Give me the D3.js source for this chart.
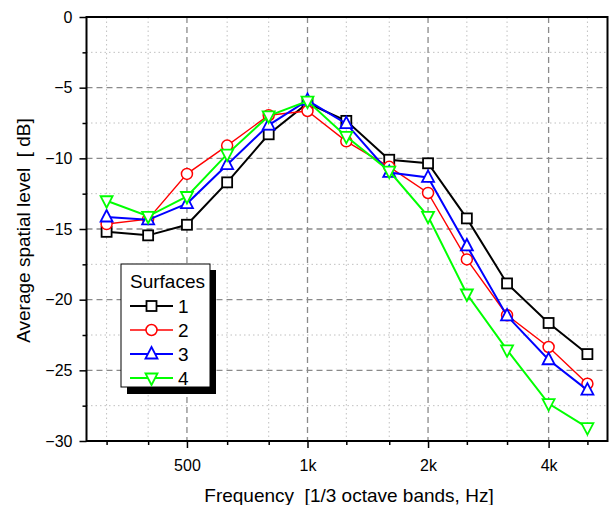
<!DOCTYPE html>
<html>
<head>
<meta charset="utf-8">
<script src="https://cdn.jsdelivr.net/npm/d3@7"></script>
<style>
  body { margin: 0; background: #fff; }
  text { font-family: "Liberation Sans", Arial, sans-serif; fill: #000; white-space: pre; }
</style>
</head>
<body>
<svg id="chart"></svg>
<script>
// 1/3 octave band centres
let freqs = [315, 400, 500, 630, 800, 1000, 1250, 1600, 2000, 2500, 3150, 4000, 5000];
let surface1 = [-15.2, -15.45, -14.7, -11.7, -8.3, -6.1, -7.35, -10.1, -10.35, -14.25, -18.85, -21.65, -23.85];
let surface2 = [-14.65, -14.3, -11.1, -9.1, -6.95, -6.65, -8.8, -10.6, -12.45, -17.15, -21.1, -23.35, -25.95];
let surface3 = [-14.15, -14.35, -13.2, -10.45, -7.65, -5.9, -7.55, -11.0, -11.35, -16.2, -21.15, -24.25, -26.4];
let surface4 = [-13.0, -14.1, -12.7, -9.7, -7.0, -5.95, -8.45, -10.9, -14.1, -19.6, -23.55, -27.35, -29.05];
let seriesNames = ["1", "2", "3", "4"];
let seriesColors = ["#000000", "#ff0000", "#0000ff", "#00ff00"];
let seriesMarkers = ["square", "circle", "up", "down"];
let majorX = [500, 1000, 2000, 4000];
let majorXLabels = ["500", "1k", "2k", "4k"];
let yTicks = [0, -5, -10, -15, -20, -25, -30];

let w = 609, h = 505;
let margin = { top: 17, right: 1.5, bottom: 64, left: 86.5 };

let svg = d3.select("#chart").attr("width", w).attr("height", h);

//half a third-octave each side
let xScale = d3.scaleLog()
    .domain([315 / Math.pow(2, 1 / 6), 5000 * Math.pow(2, 1 / 6)])
    .range([margin.left, w - margin.right]);

let yScale = d3.scaleLinear()
    .domain([-30, 0])
    .range([h - margin.bottom, margin.top]);

let x0 = margin.left, x1 = w - margin.right, y0 = margin.top, y1 = h - margin.bottom;

let minorX = freqs.filter(f => majorX.indexOf(f) < 0);
let minorY = d3.range(-27.5, 0, 5);
let majorY = yTicks.filter(v => v > -30 && v < 0);

// grid
let grid = svg.append("g");
grid.selectAll("line.mx").data(minorX).enter().append("line")
    .attr("x1", d => xScale(d)).attr("x2", d => xScale(d))
    .attr("y1", y0).attr("y2", y1)
    .attr("stroke", "#c0c0c0").attr("stroke-width", 1).attr("stroke-dasharray", "1.5,3");
grid.selectAll("line.my").data(minorY).enter().append("line")
    .attr("x1", x0).attr("x2", x1)
    .attr("y1", d => yScale(d)).attr("y2", d => yScale(d))
    .attr("stroke", "#c0c0c0").attr("stroke-width", 1).attr("stroke-dasharray", "1.5,3");
grid.selectAll("line.Mx").data(majorX).enter().append("line")
    .attr("x1", d => xScale(d)).attr("x2", d => xScale(d))
    .attr("y1", y0).attr("y2", y1)
    .attr("stroke", "#8a8a8a").attr("stroke-width", 1.3).attr("stroke-dasharray", "6,4");
grid.selectAll("line.My").data(majorY).enter().append("line")
    .attr("x1", x0).attr("x2", x1)
    .attr("y1", d => yScale(d)).attr("y2", d => yScale(d))
    .attr("stroke", "#8a8a8a").attr("stroke-width", 1.3).attr("stroke-dasharray", "6,4");

// axes
let xAxisMajor = d3.axisBottom(xScale).tickValues(majorX)
    .tickFormat((d, i) => majorXLabels[i]).tickSize(7).tickPadding(12).tickSizeOuter(0);
let xAxisMinor = d3.axisBottom(xScale).tickValues(minorX).tickFormat("").tickSize(4).tickSizeOuter(0);
let yAxisMajor = d3.axisLeft(yScale).tickValues(yTicks).tickSize(7).tickPadding(7).tickSizeOuter(0);
let yAxisMinor = d3.axisLeft(yScale).tickValues(minorY).tickFormat("").tickSize(4).tickSizeOuter(0);

[xAxisMinor, xAxisMajor].forEach(ax => {
    svg.append("g").attr("class", "axis").attr("transform", "translate(0," + y1 + ")").call(ax);
});
[yAxisMinor, yAxisMajor].forEach(ax => {
    svg.append("g").attr("class", "axis").attr("transform", "translate(" + x0 + ",0)").call(ax);
});
svg.selectAll(".axis path").remove();
svg.selectAll(".axis line").attr("stroke", "#000").attr("stroke-width", 1.5);
svg.selectAll(".axis text").style("font-size", "16px").attr("fill", "#000")
    .style("font-family", "'Liberation Sans', Arial, sans-serif");

// frame
svg.append("rect")
    .attr("x", x0).attr("y", y0).attr("width", x1 - x0).attr("height", y1 - y0)
    .attr("fill", "none").attr("stroke", "#000").attr("stroke-width", 2);

// titles
svg.append("text")
    .attr("x", 349).attr("y", 502)
    .attr("text-anchor", "middle").style("font-size", "19px")
    .text("Frequency  [1/3 octave bands, Hz]");
svg.append("text")
    .attr("transform", "translate(30,230.5) rotate(-90)")
    .attr("text-anchor", "middle").style("font-size", "19px")
    .text("Average spatial level  [ dB]");

function drawMarker(g, type, color) {
    if (type == "square") {
        g.append("rect").attr("x", -5).attr("y", -5).attr("width", 10).attr("height", 10)
            .attr("fill", "#fff").attr("stroke", color).attr("stroke-width", 1.8);
    } else if (type == "circle") {
        g.append("circle").attr("r", 5.5)
            .attr("fill", "#fff").attr("stroke", color).attr("stroke-width", 1.5);
    } else if (type == "up") {
        g.append("path").attr("d", "M0,-7L6,4.5L-6,4.5Z")
            .attr("fill", "#fff").attr("stroke", color).attr("stroke-width", 1.8);
    } else {
        g.append("path").attr("d", "M0,7L6,-4.5L-6,-4.5Z")
            .attr("fill", "#fff").attr("stroke", color).attr("stroke-width", 1.8);
    }
}

let allSeries = [surface1, surface2, surface3, surface4];
let lineWidths = [2, 1.4, 2, 2];

let line = d3.line()
    .x((d, i) => xScale(freqs[i]))
    .y(d => yScale(d));

allSeries.forEach(function (vals, s) {
    svg.append("path")
        .attr("d", line(vals))
        .attr("fill", "none")
        .attr("stroke", seriesColors[s])
        .attr("stroke-width", lineWidths[s]);
    vals.forEach(function (v, i) {
        let g = svg.append("g")
            .attr("transform", "translate(" + xScale(freqs[i]) + "," + yScale(v) + ")");
        drawMarker(g, seriesMarkers[s], seriesColors[s]);
    });
});

// legend
let lg = svg.append("g").attr("transform", "translate(121,264)");
lg.append("rect").attr("x", 6).attr("y", 6).attr("width", 89).attr("height", 124).attr("fill", "#000");
lg.append("rect").attr("x", 0).attr("y", 0).attr("width", 89).attr("height", 123)
    .attr("fill", "#fff").attr("stroke", "#000").attr("stroke-width", 1);
lg.append("text").attr("x", 9).attr("y", 24).style("font-size", "19px").text("Surfaces");
seriesNames.forEach(function (name, s) {
    let yy = 42 + s * 24;
    lg.append("line").attr("x1", 9).attr("x2", 52).attr("y1", yy).attr("y2", yy)
        .attr("stroke", seriesColors[s]).attr("stroke-width", lineWidths[s]);
    let g = lg.append("g").attr("transform", "translate(30.5," + yy + ")");
    drawMarker(g, seriesMarkers[s], seriesColors[s]);
    lg.append("text").attr("x", 57).attr("y", yy + 7).style("font-size", "19px").text(name);
});
</script>
</body>
</html>
